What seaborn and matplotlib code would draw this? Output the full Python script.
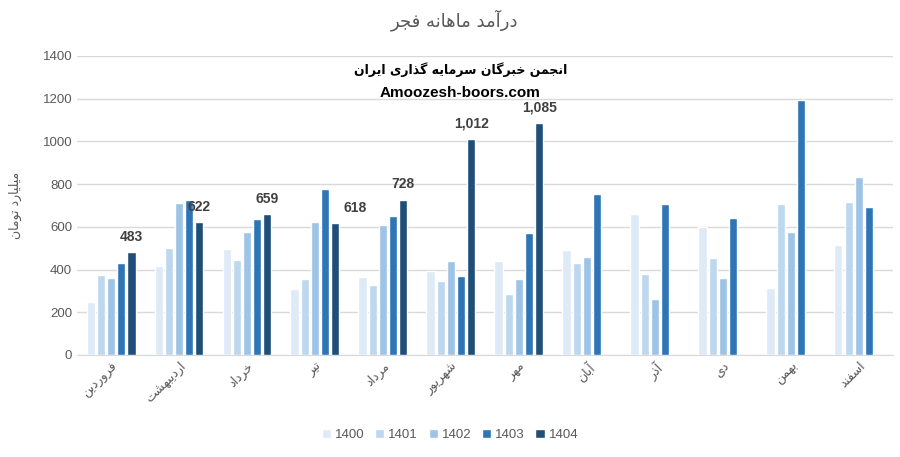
import numpy as np
import pandas as pd
import matplotlib
matplotlib.use("Agg")
import matplotlib.pyplot as plt
import seaborn as sns

# monthly revenue (billion toman)
months = ["فروردین", "اردیبهشت", "خرداد", "تیر", "مرداد", "شهریور",
          "مهر", "آبان", "آذر", "دی", "بهمن", "اسفند"]
years = ["1400", "1401", "1402", "1403", "1404"]
v1400 = [248, 417, 496, 309, 365, 393, 440, 492, 660, 599, 314, 515]
v1401 = [375, 501, 445, 356, 328, 346, 286, 431, 379, 454, 707, 716]
v1402 = [361, 712, 576, 623, 609, 440, 356, 459, 262, 361, 576, 833]
v1403 = [431, 726, 637, 777, 651, 370, 571, 754, 707, 641, 1194, 693]
v1404 = [483, 622, 659, 618, 728, 1012, 1085]
colors = ["#DEEBF7", "#BDD7EE", "#9DC3E6", "#2E75B6", "#1F4E79"]

title = "درآمد ماهانه فجر"
ylabel = "میلیارد تومان"
brand = "انجمن خبرگان سرمایه گذاری ایران"
site = "Amoozesh-boors.com"

# matplotlib has no arabic shaping, so do a small one by hand:
# (isolated, final, initial, medial) presentation forms
FORMS = {
    "\u0627": ("\uFE8D", "\uFE8E", None, None),
    "\u0622": ("\uFE81", "\uFE82", None, None),
    "\u0628": ("\uFE8F", "\uFE90", "\uFE91", "\uFE92"),
    "\u067E": ("\uFB56", "\uFB57", "\uFB58", "\uFB59"),
    "\u062A": ("\uFE95", "\uFE96", "\uFE97", "\uFE98"),
    "\u062C": ("\uFE9D", "\uFE9E", "\uFE9F", "\uFEA0"),
    "\u062E": ("\uFEA5", "\uFEA6", "\uFEA7", "\uFEA8"),
    "\u062F": ("\uFEA9", "\uFEAA", None, None),
    "\u0630": ("\uFEAB", "\uFEAC", None, None),
    "\u0631": ("\uFEAD", "\uFEAE", None, None),
    "\u0632": ("\uFEAF", "\uFEB0", None, None),
    "\u0633": ("\uFEB1", "\uFEB2", "\uFEB3", "\uFEB4"),
    "\u0634": ("\uFEB5", "\uFEB6", "\uFEB7", "\uFEB8"),
    "\u0641": ("\uFED1", "\uFED2", "\uFED3", "\uFED4"),
    "\u0644": ("\uFEDD", "\uFEDE", "\uFEDF", "\uFEE0"),
    "\u0645": ("\uFEE1", "\uFEE2", "\uFEE3", "\uFEE4"),
    "\u0646": ("\uFEE5", "\uFEE6", "\uFEE7", "\uFEE8"),
    "\u0647": ("\uFEE9", "\uFEEA", "\uFEEB", "\uFEEC"),
    "\u0648": ("\uFEED", "\uFEEE", None, None),
    "\u06CC": ("\uFBFC", "\uFBFD", "\uFBFE", "\uFBFF"),
    "\u064A": ("\uFEF1", "\uFEF2", "\uFEF3", "\uFEF4"),
    "\u06A9": ("\uFB8E", "\uFB8F", "\uFB90", "\uFB91"),
    "\u06AF": ("\uFB92", "\uFB93", "\uFB94", "\uFB95"),
}


def fa(text):
    out = []
    for i, c in enumerate(text):
        if c not in FORMS:
            out.append(c)
            continue
        prev = text[i - 1] if i > 0 else None
        nxt = text[i + 1] if i + 1 < len(text) else None
        iso, fin, ini, med = FORMS[c]
        jp = prev in FORMS and FORMS[prev][2] is not None
        jn = ini is not None and nxt in FORMS
        if jp and jn:
            out.append(med)
        elif jp:
            out.append(fin)
        elif jn:
            out.append(ini)
        else:
            out.append(iso)
    return "".join(reversed(out))


series = [v1400, v1401, v1402, v1403, v1404]
rows = []
for year, vals in zip(years, series):
    for m, v in zip(months, vals):
        rows.append({"month": m, "year": year, "value": v})
df = pd.DataFrame(rows)

sns.set_style("white")
plt.rcParams["font.family"] = ["Liberation Sans", "DejaVu Sans"]
grey = "#595959"

fig = plt.figure(figsize=(9, 4.57), dpi=100)
ax = fig.add_axes([0.0856, 0.2232, 0.9064, 0.6543])
sns.barplot(data=df, x="month", y="value", hue="year", order=months,
            hue_order=years, palette=colors, width=0.75, gap=0.2,
            errorbar=None, saturation=1, ax=ax, zorder=3)

ax.set_ylim(0, 1400)
ax.set_xlim(-0.5, len(months) - 0.5)
ax.set_yticks(np.arange(0, 1401, 200))
ax.yaxis.grid(True, color="#D9D9D9", linewidth=1, zorder=0)
for s in ["top", "right", "left"]:
    ax.spines[s].set_visible(False)
ax.spines["bottom"].set_color("#D9D9D9")
ax.tick_params(axis="both", length=0, colors=grey, labelsize=9.5)
ax.set_xticks(range(len(months)))
ax.set_xticklabels([fa(m) for m in months], rotation=45, ha="right",
                   va="top", rotation_mode="anchor", fontsize=9,
                   family=["DejaVu Sans"])
ax.set_xlabel("")
ax.set_ylabel(fa(ylabel), color=grey, fontsize=9, family=["DejaVu Sans"],
              labelpad=15)

# data labels on 1404 bars (the 4th one was nudged right in the original)
dx = [0, 0, 0, 14, 0, 0, 0]
for bar, off in zip(ax.containers[4], dx):
    h = bar.get_height()
    ax.annotate(f"{h:,.0f}", (bar.get_x() + bar.get_width() / 2, h),
                xytext=(off, 6), textcoords="offset points", ha="center",
                va="bottom", fontsize=10, fontweight="bold", color="#404040")

fig.text(0.505, 0.955, fa(title), ha="center", va="center", fontsize=13,
         color=grey, family=["DejaVu Sans"])
ax.text(0.47, 0.955, fa(brand), transform=ax.transAxes, ha="center",
        va="center", fontsize=9, fontweight="bold", color="black",
        family=["DejaVu Sans"])
ax.text(0.47, 0.877, site, transform=ax.transAxes, ha="center",
        va="center", fontsize=11, fontweight="bold", color="black")

handles, labels = ax.get_legend_handles_labels()
ax.get_legend().remove()
fig.legend(handles, labels, loc="center", bbox_to_anchor=(0.5, 0.048),
           ncol=5, frameon=False, fontsize=9.5, handlelength=0.7,
           handleheight=0.7, handletextpad=0.3, columnspacing=0.8,
           labelcolor=grey)

fig.savefig("out.png", dpi=100)
